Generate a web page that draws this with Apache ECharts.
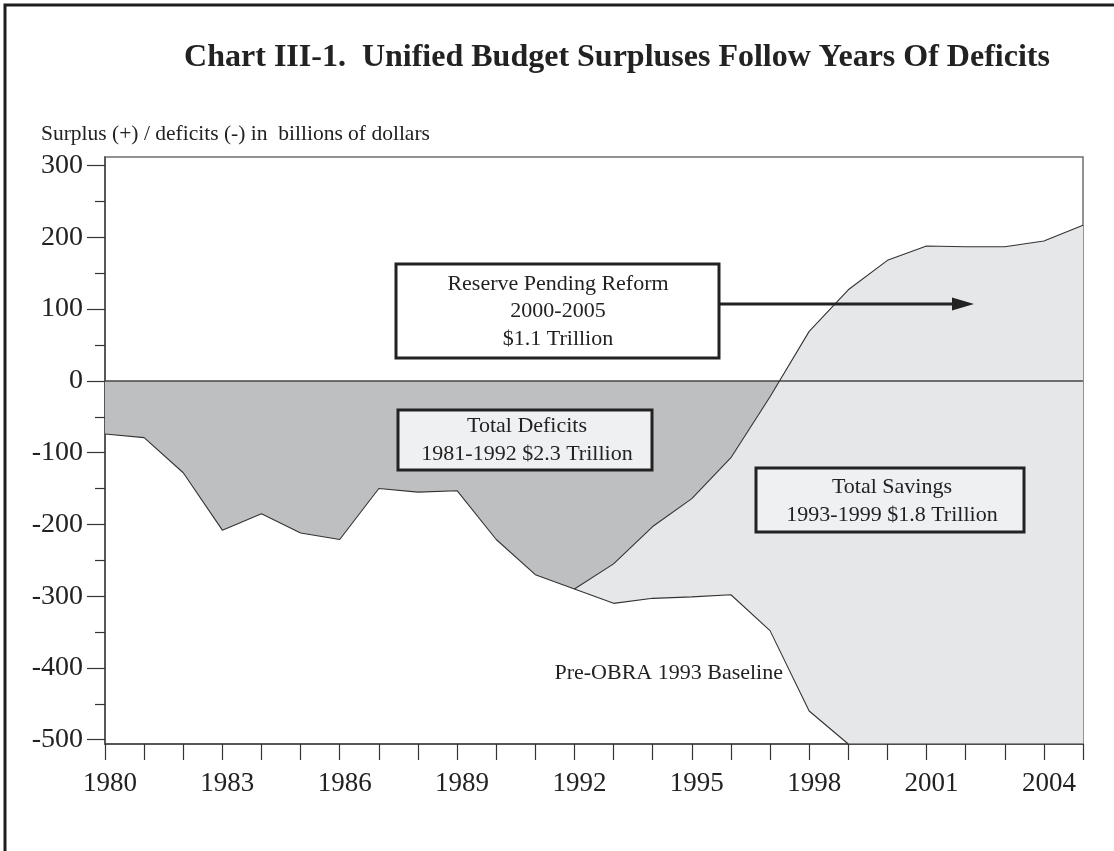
<!DOCTYPE html>
<html>
<head>
<meta charset="utf-8">
<title>Unified Budget Surpluses Follow Years Of Deficits</title>
<script src="https://cdn.jsdelivr.net/npm/echarts@6/dist/echarts.min.js"></script>
<style>
  html, body { margin: 0; padding: 0; background: #ffffff; }
  #chart { width: 1114px; height: 851px; }
</style>
</head>
<body>
<div id="chart"></div>
<script>
// Fiscal years on the horizontal axis
const years = ['1980','1981','1982','1983','1984','1985','1986','1987','1988','1989',
               '1990','1991','1992','1993','1994','1995','1996','1997','1998','1999',
               '2000','2001','2002','2003','2004','2005'];

// Unified budget surplus (+) / deficit (-), billions of dollars
const actual = [-74, -79, -128, -208, -185, -212, -221, -150, -155, -153,
                -221, -270, -290, -255, -203, -164, -107, -22, 69, 127,
                168, 188, 187, 187, 195, 217];

// Pre-OBRA 1993 baseline, 1992 onward (falls below the axis floor after 1998)
const baselineYears = ['1992','1993','1994','1995','1996','1997','1998','1999',
                       '2000','2001','2002','2003','2004','2005'];
const baseline = [-290, -310, -303, -301, -298, -348, -460, -506,
                  -506, -506, -506, -506, -506, -506];

// Last year of the deficit shading (the line crosses zero before it)
const deficitTo = '1998';

// Vertical axis ticks and labels
const yLabels = [-500, -400, -300, -200, -100, 0, 100, 200, 300];
const yMinorTicks = [-450, -350, -250, -150, -50, 50, 150, 250];
const yMin = -506, yMax = 312;

const SERIF = "'Liberation Serif', 'Times New Roman', 'DejaVu Serif', serif";
const DARK_FILL = '#bebfc1';
const LIGHT_FILL = '#e6e7e9';
const BOX_FILL = '#eff0f2';
const INK = '#222222';

// Spread a partial series over the full year list, '-' where absent
function spread(values, keys) {
  return years.map(function (y) {
    const i = keys.indexOf(y);
    return i < 0 ? '-' : values[i];
  });
}

const deficitArea = years.map(function (y, i) { return +y <= +deficitTo ? actual[i] : '-'; });
const baselineFull = spread(baseline, baselineYears);
// gap between the actual line and the baseline, stacked on top of the baseline
const savingsGap = years.map(function (y, i) {
  return baselineFull[i] === '-' ? '-' : actual[i] - baselineFull[i];
});

const chart = echarts.init(document.getElementById('chart'), null, { renderer: 'canvas' });

function box(x, y, w, h, fill, text, cx, cy, lh) {
  return {
    type: 'group',
    children: [
      { type: 'rect', shape: { x: x, y: y, width: w, height: h },
        style: { fill: fill, stroke: INK, lineWidth: 3 }, z: 100 },
      { type: 'text', x: cx, y: cy, z: 101,
        style: { text: text, fill: INK, font: '22px ' + SERIF,
                 align: 'center', verticalAlign: 'middle', lineHeight: lh } }
    ]
  };
}

const option = {
  backgroundColor: '#ffffff',
  animation: false,
  grid: {
    left: 105, right: 31, top: 157, bottom: 107,
    show: true, borderColor: '#6f6f6f', borderWidth: 1.5, backgroundColor: 'transparent'
  },
  xAxis: {
    type: 'category',
    data: years,
    boundaryGap: false,
    axisLine: { show: true, onZero: false, lineStyle: { color: '#444', width: 1.5 } },
    axisTick: { show: true, interval: 0, length: 16, inside: false,
                lineStyle: { color: '#333', width: 1.2 } },
    axisLabel: { interval: 2, margin: 26, color: INK, fontFamily: SERIF, fontSize: 27,
                 padding: [0, 0, 0, 10] },
    splitLine: { show: false }
  },
  yAxis: [
    {
      type: 'value', min: yMin, max: yMax, position: 'left',
      axisLine: { show: true, onZero: false, lineStyle: { color: '#444', width: 1.5 } },
      axisTick: { show: true, length: 18, customValues: yLabels,
                  lineStyle: { color: '#333', width: 1.2 } },
      axisLabel: { customValues: yLabels, margin: 22, color: INK, fontFamily: SERIF,
                   fontSize: 28, padding: [8, 0, 0, 0] },
      splitLine: { show: false }
    },
    {
      type: 'value', min: yMin, max: yMax, position: 'left',
      axisLine: { show: false },
      axisTick: { show: true, length: 10, customValues: yMinorTicks,
                  lineStyle: { color: '#333', width: 1.2 } },
      axisLabel: { show: false },
      splitLine: { show: false }
    }
  ],
  series: [
    { // deficits between zero and the actual line
      name: 'Total Deficits', type: 'line', data: deficitArea, z: 2,
      showSymbol: false, lineStyle: { width: 0 },
      areaStyle: { color: DARK_FILL, opacity: 1 }
    },
    { // baseline as the floor of the savings band
      name: 'Baseline floor', type: 'line', data: baselineFull, z: 3,
      stack: 'savings', stackStrategy: 'all',
      showSymbol: false, lineStyle: { width: 0 }
    },
    { // savings and reserve band between the baseline and the actual line
      name: 'Total Savings', type: 'line', data: savingsGap, z: 3,
      stack: 'savings', stackStrategy: 'all',
      showSymbol: false, lineStyle: { width: 0 },
      areaStyle: { color: LIGHT_FILL, opacity: 1 }
    },
    {
      name: 'Actual', type: 'line', data: actual, z: 5,
      showSymbol: false, lineStyle: { color: '#333', width: 1.1 },
      markLine: {
        silent: true, symbol: ['none', 'none'], label: { show: false },
        lineStyle: { color: '#444', width: 1.6, type: 'solid' },
        data: [{ yAxis: 0 }]
      }
    },
    {
      name: 'Pre-OBRA 1993 Baseline', type: 'line', data: baselineFull, z: 5,
      showSymbol: false, lineStyle: { color: '#333', width: 1.1 }
    }
  ],
  graphic: [
    { // page frame
      type: 'rect', shape: { x: 5, y: 5, width: 1300, height: 1000 },
      style: { fill: 'none', stroke: '#1e1e1e', lineWidth: 3 }, z: 50, silent: true
    },
    {
      type: 'text', x: 617, y: 58, z: 60,
      style: { text: 'Chart III-1.  Unified Budget Surpluses Follow Years Of Deficits',
               fill: INK, font: 'bold 32px ' + SERIF, align: 'center', verticalAlign: 'middle' }
    },
    {
      type: 'text', x: 41, y: 134, z: 60,
      style: { text: 'Surplus (+) / deficits (-) in  billions of dollars',
               fill: INK, font: '21.5px ' + SERIF, align: 'left', verticalAlign: 'middle' }
    },
    box(396, 264, 323, 94, '#ffffff', 'Reserve Pending Reform\n2000-2005\n$1.1 Trillion', 558, 311.5, 27.5),
    box(398, 410, 254, 60, BOX_FILL, 'Total Deficits\n1981-1992 $2.3 Trillion', 527, 440, 28),
    box(756, 468, 268, 64, BOX_FILL, 'Total Savings\n1993-1999 $1.8 Trillion', 892, 501, 28),
    {
      type: 'line', z: 100, shape: { x1: 720, y1: 304, x2: 956, y2: 304 },
      style: { stroke: INK, lineWidth: 3 }
    },
    {
      type: 'polygon', z: 100, shape: { points: [[952, 297.5], [974, 304], [952, 310.5]] },
      style: { fill: INK }
    },
    {
      type: 'text', x: 783, y: 673, z: 60,
      style: { text: 'Pre-OBRA 1993 Baseline', fill: INK, font: '22px ' + SERIF,
               align: 'right', verticalAlign: 'middle' }
    }
  ]
};

chart.setOption(option);
</script>
</body>
</html>
